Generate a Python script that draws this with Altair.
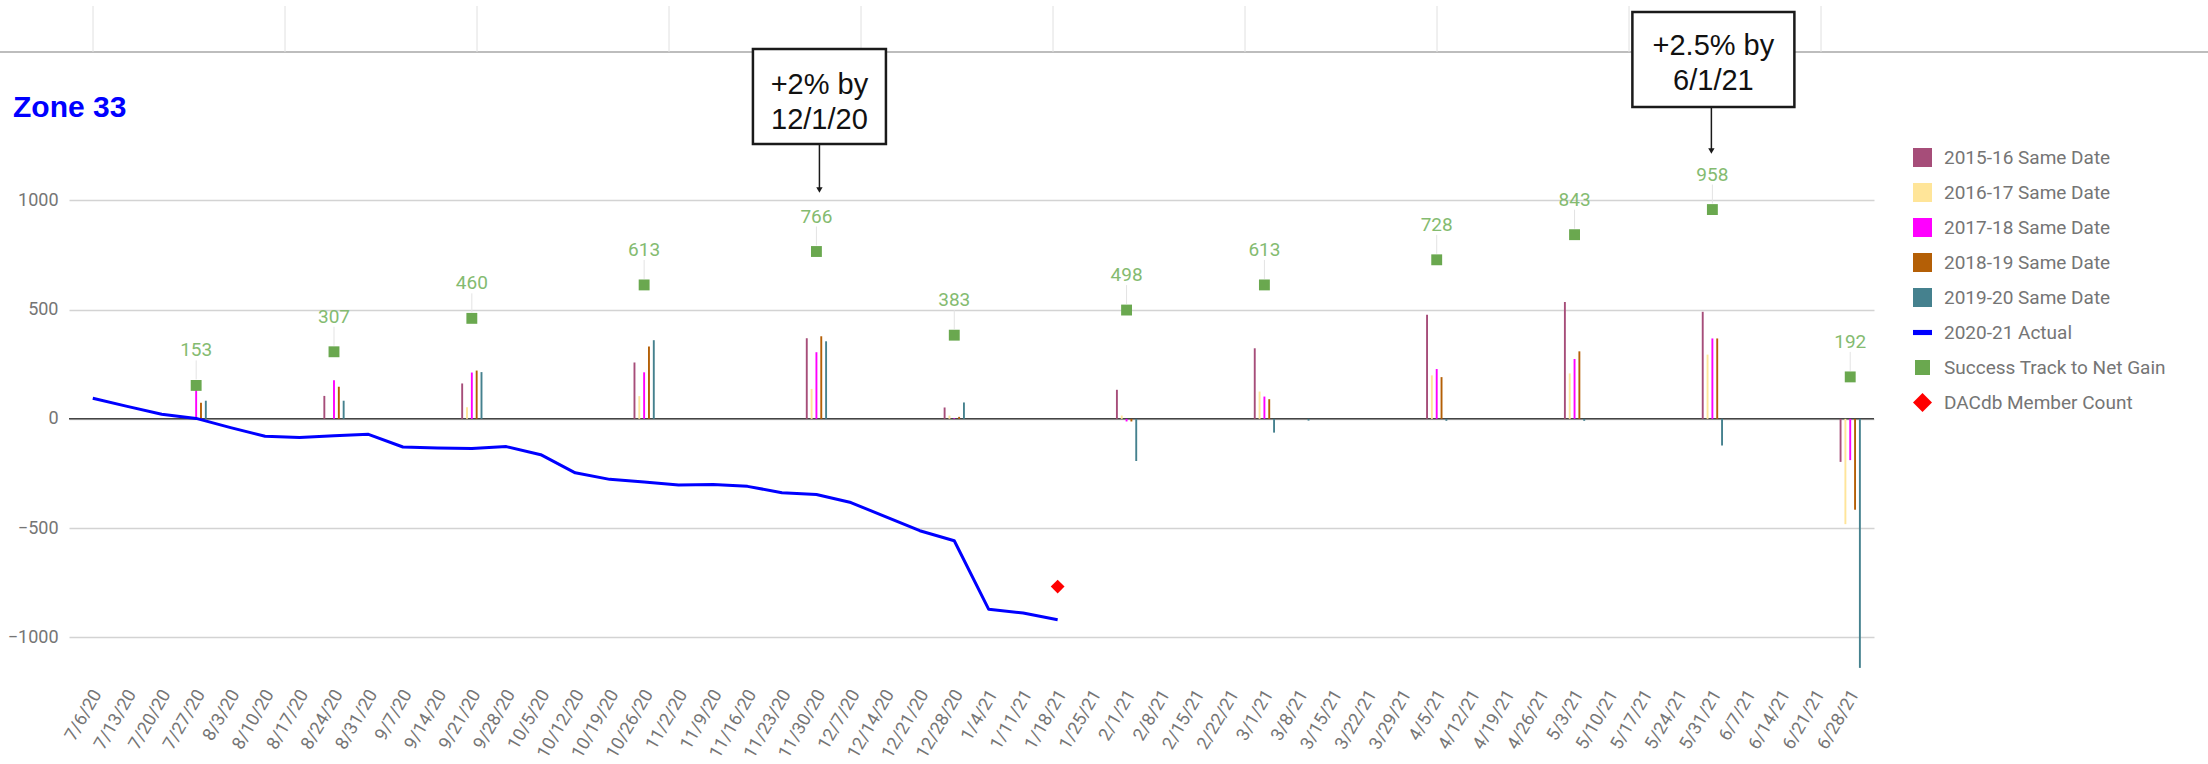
import altair as alt
import pandas as pd

# ---------------- data ----------------
weeks = ["7/6/20", "7/13/20", "7/20/20", "7/27/20", "8/3/20", "8/10/20", "8/17/20",
         "8/24/20", "8/31/20", "9/7/20", "9/14/20", "9/21/20", "9/28/20", "10/5/20",
         "10/12/20", "10/19/20", "10/26/20", "11/2/20", "11/9/20", "11/16/20",
         "11/23/20", "11/30/20", "12/7/20", "12/14/20", "12/21/20", "12/28/20",
         "1/4/21", "1/11/21", "1/18/21", "1/25/21", "2/1/21", "2/8/21", "2/15/21",
         "2/22/21", "3/1/21", "3/8/21", "3/15/21", "3/22/21", "3/29/21", "4/5/21",
         "4/12/21", "4/19/21", "4/26/21", "5/3/21", "5/10/21", "5/17/21", "5/24/21",
         "5/31/21", "6/7/21", "6/14/21", "6/21/21", "6/28/21"]

bar_series = ["2015-16 Same Date", "2016-17 Same Date", "2017-18 Same Date",
              "2018-19 Same Date", "2019-20 Same Date"]
bar_dates = ["7/27/20", "8/24/20", "9/21/20", "10/26/20", "11/30/20", "12/28/20",
             "2/1/21", "3/1/21", "3/8/21", "4/5/21", "5/3/21", "5/31/21", "6/28/21"]
v2015_16 = [0, 105, 162, 258, 369, 52, 133, 323, 0, 477, 535, 490, -197]
v2016_17 = [0, 0, 53, 104, 137, 15, 15, 125, 0, 199, 208, 294, -482]
v2017_18 = [132, 177, 212, 213, 305, 3, -12, 102, 0, 228, 274, 368, -189]
v2018_19 = [74, 147, 221, 331, 378, 9, -12, 90, 0, 191, 309, 368, -416]
v2019_20 = [83, 83, 214, 360, 355, 75, -193, -63, -8, -9, -9, -122, -1140]

actual_name = "2020-21 Actual"
actual_dates = ["7/6/20", "7/13/20", "7/20/20", "7/27/20", "8/3/20", "8/10/20",
                "8/17/20", "8/24/20", "8/31/20", "9/7/20", "9/14/20", "9/21/20",
                "9/28/20", "10/5/20", "10/12/20", "10/19/20", "10/26/20", "11/2/20",
                "11/9/20", "11/16/20", "11/23/20", "11/30/20", "12/7/20", "12/14/20",
                "12/21/20", "12/28/20", "1/4/21", "1/11/21", "1/18/21"]
actual_vals = [94, 57, 21, 2, -40, -80, -85, -77, -71, -129, -133, -136, -127, -164,
               -247, -277, -289, -303, -300, -309, -338, -346, -383, -448, -512, -558,
               -872, -889, -920]

succ_name = "Success Track to Net Gain"
succ_dates = ["7/27/20", "8/24/20", "9/21/20", "10/26/20", "11/30/20", "12/28/20",
              "2/1/21", "3/1/21", "4/5/21", "5/3/21", "5/31/21", "6/28/21"]
succ_vals = [153, 307, 460, 613, 766, 383, 498, 613, 728, 843, 958, 192]

dac_name = "DACdb Member Count"
dac_dates = ["1/18/21"]
dac_vals = [-768]

ann_dates = ["11/30/20", "5/31/21"]
ann_texts = ["+2% by\n12/1/20", "+2.5% by\n6/1/21"]

chart_title = "Zone 33"

all_series = bar_series + [actual_name, succ_name, dac_name]
series_colors = ["#a64d79", "#ffe599", "#ff00ff", "#b45f06", "#45818e",
                 "#0000ff", "#6aa84f", "#ff0000"]
series_shapes = ["square"] * 5 + ["M-1,-0.27H1V0.27H-1Z",
                                  "M-0.79,-0.79H0.79V0.79H-0.79Z", "diamond"]

# ---------------- frames ----------------
bar_values = [v2015_16, v2016_17, v2017_18, v2018_19, v2019_20]
line_df = pd.DataFrame({"week": actual_dates, "value": actual_vals})
pts_df = pd.DataFrame(
    [{"week": d, "value": v, "series": succ_name} for d, v in zip(succ_dates, succ_vals)]
    + [{"week": d, "value": v, "series": dac_name} for d, v in zip(dac_dates, dac_vals)]
)
succ_df = pd.DataFrame({"week": succ_dates, "value": succ_vals})

# ---------------- layout constants ----------------
PLOT_W, PLOT_H = 1805, 568
PAD = {"left": 69, "top": 113, "right": 2208 - 69 - PLOT_W, "bottom": 764 - 113 - PLOT_H}
FONT = "Roboto"
GREY_TXT = "#757575"
BAR_STEP = 4.83   # horizontal spacing of the thin bars within a week
BAR_W = 1.9

color_scale = alt.Scale(domain=all_series, range=series_colors)
shape_scale = alt.Scale(domain=all_series, range=series_shapes)

legend = alt.Legend(
    title=None, orient="none", legendX=1913 - 69, legendY=35, padding=0,
    labelFontSize=19, labelColor=GREY_TXT, labelFont=FONT, symbolSize=361,
    rowPadding=15, labelOffset=12, symbolStrokeWidth=0, symbolOpacity=1,
    labelLimit=500,
)

X = alt.X(
    "week:N",
    scale=alt.Scale(domain=weeks, paddingInner=0, paddingOuter=0.19),
    axis=alt.Axis(
        title=None, labelAngle=-60, labelAlign="right", labelBaseline="middle",
        labelFontSize=18, labelColor=GREY_TXT, labelFont=FONT, labelPadding=10,
        labelOffset=5, domain=False, ticks=False, grid=False, labelOverlap=False,
    ),
)
Y = alt.Y(
    "value:Q",
    scale=alt.Scale(domain=[-1200, 1400], nice=False),
    axis=alt.Axis(
        title=None, values=[-1000, -500, 0, 500, 1000], format="d", grid=True,
        gridColor="#d3d3d3", gridWidth=1.3, domain=False, ticks=False,
        labelFontSize=18, labelColor=GREY_TXT, labelFont=FONT, labelPadding=11,
    ),
)

one = pd.DataFrame({"k": [0]})

# spreadsheet frame above the chart
sheet_layers = [
    alt.Chart(one).mark_rule(color="#bdbdbd", strokeWidth=2).encode(
        x=alt.value(-69), x2=alt.value(2208 - 69), y=alt.value(52 - 113))
]
for k in range(10):
    sheet_layers.append(
        alt.Chart(one).mark_rule(color="#e0e0e0", strokeWidth=1).encode(
            x=alt.value(93 + 192 * k - 69), y=alt.value(6 - 113), y2=alt.value(52 - 113))
    )

title_layer = alt.Chart(pd.DataFrame({"t": [chart_title]})).mark_text(
    align="left", baseline="alphabetic", fontSize=30, fontWeight="bold",
    font="Liberation Sans", color="#0000ff",
).encode(text="t:N", x=alt.value(13 - 69), y=alt.value(117 - 113))

zero_rule = alt.Chart(pd.DataFrame({"value": [0]})).mark_rule(
    color="#444444", strokeWidth=1.5).encode(y=alt.Y("value:Q"))

bar_layers = []
for i, (s, vals) in enumerate(zip(bar_series, bar_values)):
    bdf = pd.DataFrame({"week": bar_dates, "value": vals, "series": s})
    bar_layers.append(
        alt.Chart(bdf).mark_bar(width=BAR_W, xOffset=(i - 2) * BAR_STEP).encode(
            x=X, y=Y,
            color=alt.Color("series:N", scale=color_scale, legend=legend),
        )
    )

line = alt.Chart(line_df).mark_line(color="#0000ff", strokeWidth=3,
                                    strokeJoin="round").encode(x=X, y=Y)

stems = alt.Chart(succ_df).mark_rule(color="#e3e3e3", strokeWidth=1, yOffset=-6,
                                     y2Offset=-25).encode(
    x=X, y=Y, y2=alt.Y2("value:Q"))

points = alt.Chart(pts_df).mark_point(filled=True, opacity=1, size=190,
                                      strokeWidth=0).encode(
    x=X, y=Y,
    color=alt.Color("series:N", scale=color_scale, legend=legend),
    shape=alt.Shape("series:N", scale=shape_scale, legend=legend),
)

labels = alt.Chart(succ_df).mark_text(
    dy=-29, baseline="alphabetic", fontSize=19, font=FONT, color="#84bb70",
).encode(x=X, y=Y, text=alt.Text("value:Q", format="d"))

# call-out boxes (anchored to their week, pixel offsets are layout)
box_geo = [
    dict(w=133, top=49, bottom=144, base=94, tip=193, dx=3, adx=3),
    dict(w=162, top=12, bottom=107, base=55, tip=154, dx=1, adx=-1),
]
ann_layers = []
for d, t, g in zip(ann_dates, ann_texts, box_geo):
    adf = pd.DataFrame({"week": [d], "label": [t]})
    ann_layers += [
        alt.Chart(adf).mark_bar(width=g["w"], fill="white", stroke="#1a1a1a",
                                strokeWidth=2.5, xOffset=g["dx"]).encode(
            x=X, y=alt.value(g["top"] - 113), y2=alt.value(g["bottom"] - 113)),
        alt.Chart(adf).mark_text(fontSize=29, font="Liberation Sans", lineBreak="\n",
                                 lineHeight=35, baseline="alphabetic", align="center",
                                 color="#111111", xOffset=g["dx"]).encode(
            x=X, y=alt.value(g["base"] - 113), text="label:N"),
        alt.Chart(adf).mark_rule(color="#1a1a1a", strokeWidth=1.5,
                                 xOffset=g["adx"]).encode(
            x=X, y=alt.value(g["bottom"] - 113), y2=alt.value(g["tip"] - 113 - 4)),
        alt.Chart(adf).mark_point(shape="triangle-down", filled=True, color="#1a1a1a",
                                  size=40, opacity=1, xOffset=g["adx"]).encode(
            x=X, y=alt.value(g["tip"] - 113 - 3)),
    ]

chart = alt.layer(
    *sheet_layers, title_layer, zero_rule, *bar_layers, line, stems, points, labels,
    *ann_layers
).properties(
    width=PLOT_W, height=PLOT_H,
    autosize=alt.AutoSizeParams(type="none"), padding=PAD,
).configure(font=FONT, background="white").configure_view(strokeWidth=0, stroke=None)

chart.save("out.html", embed_options={"renderer": "svg", "actions": False})
